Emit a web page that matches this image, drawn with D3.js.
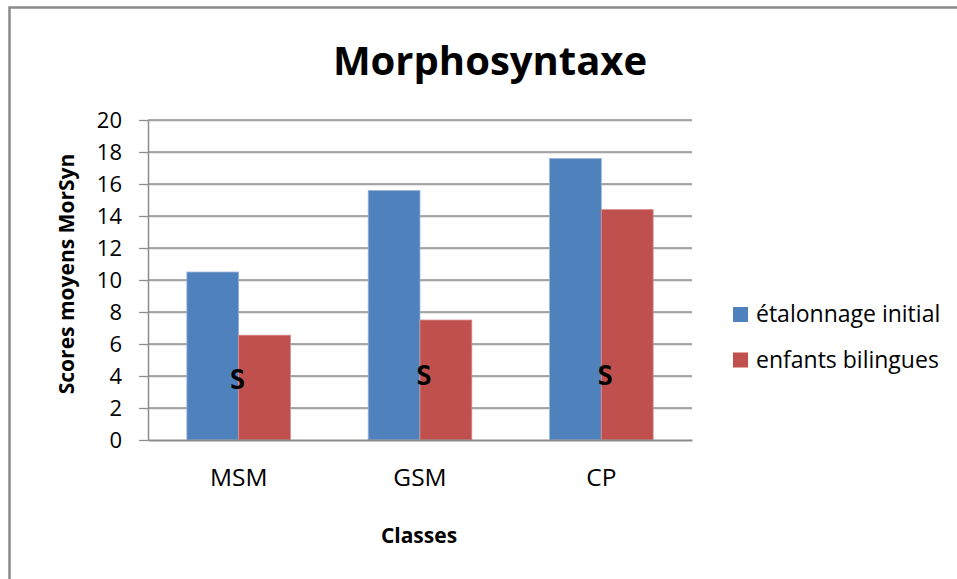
<!DOCTYPE html>
<html>
<head>
<meta charset="utf-8">
<script src="https://cdn.jsdelivr.net/npm/d3@7"></script>
<style>
  html, body { margin: 0; padding: 0; background: #fff; }
  svg { display: block; }
  text { font-family: "Open Sans", sans-serif; fill: #000; }
</style>
</head>
<body>
<svg id="chart" width="957" height="579"></svg>
<script>
// data
var classes = ['MSM', 'GSM', 'CP'];
var seriesNames = ['étalonnage initial', 'enfants bilingues'];
var etalonnage = [10.5, 15.6, 17.6];
var bilingues = [6.55, 7.5, 14.4];
var sigLabels = ['S', 'S', 'S'];
var sigLevel = [3.75, 4, 4];
var yTicks = [0, 2, 4, 6, 8, 10, 12, 14, 16, 18, 20];
var colors = ['#4f81bd', '#c0504d'];

var svg = d3.select('#chart');

// outer frame (only left and top edges are visible in the picture)
svg.append('rect')
  .attr('x', 9.5).attr('y', 7.5)
  .attr('width', 1200).attr('height', 900)
  .attr('fill', 'none')
  .attr('stroke', '#8a8a8a')
  .attr('stroke-width', 2.5);

var plotLeft = 148, plotRight = 692, plotTop = 120, plotBottom = 440;

var x = d3.scaleBand().domain(classes).range([plotLeft, plotRight]).paddingInner(1.5 / 3.5).paddingOuter(0.75 / 3.5);
var x1 = d3.scaleBand().domain([0, 1]).range([0, x.bandwidth()]);
var y = d3.scaleLinear().domain([0, 20]).range([plotBottom, plotTop]);

// gridlines
var gridVals = yTicks.filter(function(d){ return d > 0; });
var grid = svg.append('g');
grid.selectAll('line.g').data(gridVals).enter().append('line')
  .attr('class', 'g')
  .attr('x1', plotLeft).attr('x2', plotRight)
  .attr('y1', function(d){ return y(d) + 1; }).attr('y2', function(d){ return y(d) + 1; })
  .attr('stroke', '#d0d0d0').attr('stroke-width', 1);
grid.selectAll('line.h').data(gridVals).enter().append('line')
  .attr('class', 'h')
  .attr('x1', plotLeft).attr('x2', plotRight)
  .attr('y1', function(d){ return y(d); }).attr('y2', function(d){ return y(d); })
  .attr('stroke', '#8c8c8c').attr('stroke-width', 1.3);

// bars
var rows = classes.map(function(c, i){ return { cls: c, vals: [etalonnage[i], bilingues[i]] }; });
var groups = svg.selectAll('g.cat').data(rows).enter().append('g')
  .attr('class', 'cat')
  .attr('transform', function(d){ return 'translate(' + x(d.cls) + ',0)'; });
groups.selectAll('rect').data(function(d){ return d.vals; }).enter().append('rect')
  .attr('x', function(d, i){ return x1(i); })
  .attr('width', x1.bandwidth())
  .attr('y', function(d){ return y(d); })
  .attr('height', function(d){ return plotBottom - y(d); })
  .attr('fill', function(d, i){ return colors[i]; })
  .attr('stroke', function(d, i){ return i === 0 ? '#9bb7da' : '#d98c8a'; })
  .attr('stroke-width', 0.8);

// y axis
var yAxis = d3.axisLeft(y).tickValues(yTicks).tickSize(9).tickSizeOuter(0).tickPadding(17);
var ya = svg.append('g').attr('transform', 'translate(' + plotLeft + ',0)').call(yAxis);
ya.select('.domain').attr('stroke', '#8c8c8c').attr('stroke-width', 1.5);
ya.selectAll('.tick line').attr('stroke', '#8c8c8c').attr('stroke-width', 1.3);
ya.selectAll('.tick text').attr('font-size', 22).attr('font-family', '"Open Sans", sans-serif').attr('fill', '#000');

// x axis
var xAxis = d3.axisBottom(x).tickSize(0).tickPadding(29);
var xa = svg.append('g').attr('transform', 'translate(0,' + plotBottom + ')').call(xAxis);
xa.select('.domain').attr('stroke', '#8c8c8c').attr('stroke-width', 2);
xa.selectAll('.tick text').attr('font-size', 24.5).attr('font-family', '"Open Sans", sans-serif').attr('fill', '#000');

// significance marks
svg.selectAll('text.sig').data(sigLabels).enter().append('text')
  .attr('class', 'sig')
  .attr('x', function(d, i){ return x(classes[i]) + x.bandwidth() / 2 + (i === 0 ? -1 : 4); })
  .attr('y', function(d, i){ return y(sigLevel[i]); })
  .attr('text-anchor', 'middle')
  .attr('dominant-baseline', 'central')
  .style('font-family', '"DejaVu Sans Mono", monospace')
  .attr('font-weight', 'bold')
  .attr('font-size', 26)
  .text(function(d){ return d; });

// titles
svg.append('text')
  .attr('x', 490).attr('y', 75)
  .attr('text-anchor', 'middle')
  .attr('font-size', 40).attr('font-weight', 'bold')
  .text('Morphosyntaxe');

svg.append('text')
  .attr('transform', 'translate(74,274) rotate(-90)')
  .attr('text-anchor', 'middle')
  .attr('font-size', 21).attr('font-weight', 'bold')
  .text('Scores moyens MorSyn');

svg.append('text')
  .attr('x', 419).attr('y', 543)
  .attr('text-anchor', 'middle')
  .attr('font-size', 21).attr('font-weight', 'bold')
  .text('Classes');

// legend
var legend = svg.append('g').attr('transform', 'translate(733,307)');
var items = legend.selectAll('g').data(seriesNames).enter().append('g')
  .attr('transform', function(d, i){ return 'translate(0,' + (i * 45.5) + ')'; });
items.append('rect').attr('width', 15).attr('height', 15)
  .attr('fill', function(d, i){ return colors[i]; });
items.append('text').attr('x', 23).attr('y', 15)
  .attr('font-size', 23)
  .text(function(d){ return d; });
</script>
</body>
</html>
